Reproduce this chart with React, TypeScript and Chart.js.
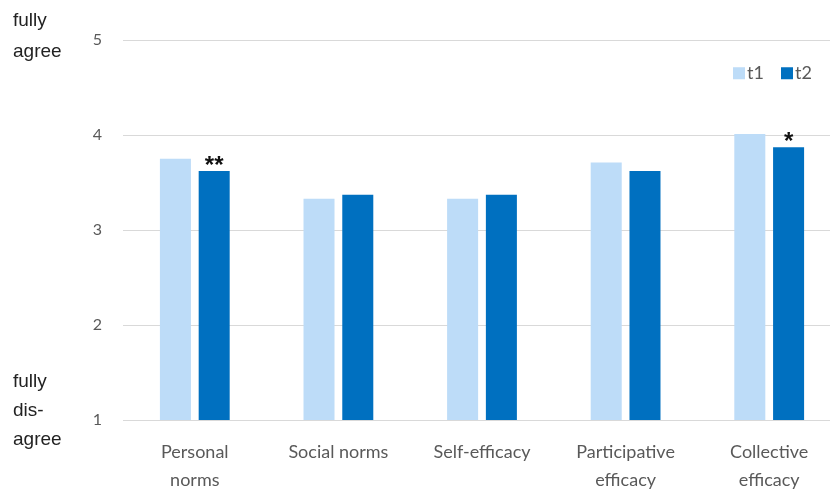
import React, { useEffect, useRef } from "react";
import { Chart, registerables } from "chart.js";

Chart.register(...registerables);

const categories: (string | string[])[] = [
  ["Personal", "norms"],
  "Social norms",
  "Self-efficacy",
  ["Participative", "efficacy"],
  ["Collective", "efficacy"],
];
const t1Values = [3.75, 3.33, 3.33, 3.71, 4.01];
const t2Values = [3.62, 3.37, 3.37, 3.62, 3.87];
const t2Marks = ["**", "", "", "", "*"];
const seriesNames = ["t1", "t2"];
const seriesColors = ["#bddcf8", "#0070c0"];
const yTicks = [1, 2, 3, 4, 5];
const topLabel = ["fully", "agree"];
const bottomLabel = ["fully", "dis-", "agree"];

const extras = {
  id: "extras",
  afterDatasetsDraw(chart: any) {
    const ctx = chart.ctx;
    ctx.save();
    // significance marks
    const meta = chart.getDatasetMeta(1);
    ctx.fillStyle = "#111";
    ctx.font = "bold 24px 'Liberation Sans', Arial, sans-serif";
    ctx.textAlign = "center";
    ctx.textBaseline = "alphabetic";
    meta.data.forEach((bar: any, i: number) => {
      if (t2Marks[i]) ctx.fillText(t2Marks[i], bar.x, bar.y + 2);
    });
    // side labels
    ctx.fillStyle = "#222";
    ctx.font = "19px 'Liberation Sans', Arial, sans-serif";
    ctx.textAlign = "left";
    ctx.textBaseline = "middle";
    const ys = chart.scales.y;
    const yTop = ys.getPixelForValue(5);
    ctx.fillText(topLabel[0], 13, yTop - 19);
    ctx.fillText(topLabel[1], 13, yTop + 12);
    const yBot = ys.getPixelForValue(1);
    ctx.fillText(bottomLabel[0], 13, yBot - 38);
    ctx.fillText(bottomLabel[1], 13, yBot - 9);
    ctx.fillText(bottomLabel[2], 13, yBot + 20);
    // legend
    ctx.font = "18px Lato, sans-serif";
    ctx.textBaseline = "middle";
    let lx = 733;
    const ly = chart.scales.y.getPixelForValue(4.65);
    seriesNames.forEach((name, i) => {
      ctx.fillStyle = seriesColors[i];
      ctx.fillRect(lx, ly - 6, 12, 12);
      ctx.fillStyle = "#595959";
      ctx.fillText(name, lx + 14, ly);
      lx += 48;
    });
    ctx.restore();
  },
};

export default function App() {
  const ref = useRef<HTMLCanvasElement>(null);
  useEffect(() => {
    if (!ref.current) return;
    const chart = new Chart(ref.current, {
      type: "bar",
      data: {
        labels: categories,
        datasets: [
          { label: seriesNames[0], data: t1Values, backgroundColor: seriesColors[0] },
          { label: seriesNames[1], data: t2Values, backgroundColor: seriesColors[1] },
        ],
      },
      options: {
        responsive: false,
        animation: false,
        layout: { padding: { top: 40, right: 1, left: 0, bottom: 0 } },
        plugins: { legend: { display: false }, tooltip: { enabled: false } },
        datasets: { bar: { categoryPercentage: 0.54, barPercentage: 0.8 } },
        scales: {
          x: {
            grid: { display: false },
            border: { display: false },
            ticks: {
              color: "#595959",
              font: { family: "Lato, sans-serif", size: 18, lineHeight: 1.55 },
              padding: 10,
              maxRotation: 0,
              autoSkip: false,
            },
            afterFit: (s: any) => { s.height = 72; },
          },
          y: {
            min: 1,
            max: 5,
            grid: { color: "#d9d9d9", drawTicks: false },
            border: { display: false },
            ticks: {
              stepSize: 1,
              color: "#595959",
              padding: 21,
              font: { family: "Lato, sans-serif", size: 16 },
              callback: (v: any) => (yTicks.includes(v) ? String(v) : ""),
            },
            afterFit: (s: any) => { s.width = 123; },
          },
        },
      },
      plugins: [extras],
    } as any);
    return () => chart.destroy();
  }, []);
  return (
    <div style={{ position: "fixed", left: 0, top: 0, width: 830, height: 492, overflow: "hidden", background: "#fff" }}>
      <canvas ref={ref} width={842} height={492} style={{ display: "block" }} />
    </div>
  );
}
